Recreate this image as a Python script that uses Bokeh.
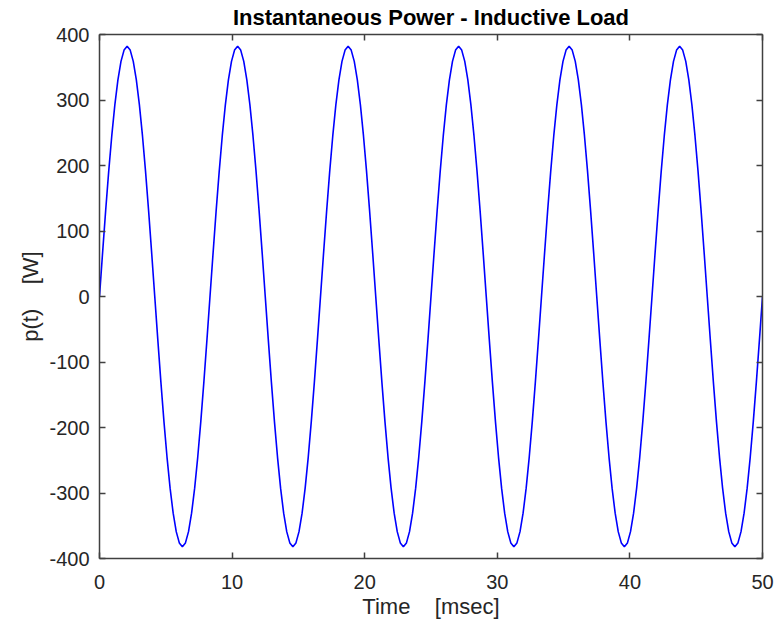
from bokeh.plotting import figure
from bokeh.models import LinearAxis, Range1d, FixedTicker, CustomLabelingPolicy
from bokeh.embed import file_html
from bokeh.resources import INLINE

# Time samples [msec]
time_ms = [
    0.000, 0.231, 0.463, 0.694, 0.926, 1.157, 1.389, 1.620, 1.852, 2.083, 2.315, 2.546,
    2.778, 3.009, 3.241, 3.472, 3.704, 3.935, 4.167, 4.398, 4.630, 4.861, 5.093, 5.324,
    5.556, 5.787, 6.019, 6.250, 6.481, 6.713, 6.944, 7.176, 7.407, 7.639, 7.870, 8.102,
    8.333, 8.565, 8.796, 9.028, 9.259, 9.491, 9.722, 9.954, 10.185, 10.417, 10.648, 10.880,
    11.111, 11.343, 11.574, 11.806, 12.037, 12.269, 12.500, 12.731, 12.963, 13.194, 13.426, 13.657,
    13.889, 14.120, 14.352, 14.583, 14.815, 15.046, 15.278, 15.509, 15.741, 15.972, 16.204, 16.435,
    16.667, 16.898, 17.130, 17.361, 17.593, 17.824, 18.056, 18.287, 18.519, 18.750, 18.981, 19.213,
    19.444, 19.676, 19.907, 20.139, 20.370, 20.602, 20.833, 21.065, 21.296, 21.528, 21.759, 21.991,
    22.222, 22.454, 22.685, 22.917, 23.148, 23.380, 23.611, 23.843, 24.074, 24.306, 24.537, 24.769,
    25.000, 25.231, 25.463, 25.694, 25.926, 26.157, 26.389, 26.620, 26.852, 27.083, 27.315, 27.546,
    27.778, 28.009, 28.241, 28.472, 28.704, 28.935, 29.167, 29.398, 29.630, 29.861, 30.093, 30.324,
    30.556, 30.787, 31.019, 31.250, 31.481, 31.713, 31.944, 32.176, 32.407, 32.639, 32.870, 33.102,
    33.333, 33.565, 33.796, 34.028, 34.259, 34.491, 34.722, 34.954, 35.185, 35.417, 35.648, 35.880,
    36.111, 36.343, 36.574, 36.806, 37.037, 37.269, 37.500, 37.731, 37.963, 38.194, 38.426, 38.657,
    38.889, 39.120, 39.352, 39.583, 39.815, 40.046, 40.278, 40.509, 40.741, 40.972, 41.204, 41.435,
    41.667, 41.898, 42.130, 42.361, 42.593, 42.824, 43.056, 43.287, 43.519, 43.750, 43.981, 44.213,
    44.444, 44.676, 44.907, 45.139, 45.370, 45.602, 45.833, 46.065, 46.296, 46.528, 46.759, 46.991,
    47.222, 47.454, 47.685, 47.917, 48.148, 48.380, 48.611, 48.843, 49.074, 49.306, 49.537, 49.769,
    50.000,
]

# Instantaneous power p(t) [W]
power_w = [
    0.0, 66.3, 130.7, 191.0, 245.5, 292.6, 330.8, 359.0, 376.2, 382.0, 376.2, 359.0,
    330.8, 292.6, 245.5, 191.0, 130.7, 66.3, 0.0, -66.3, -130.7, -191.0, -245.5, -292.6,
    -330.8, -359.0, -376.2, -382.0, -376.2, -359.0, -330.8, -292.6, -245.5, -191.0, -130.7, -66.3,
    0.0, 66.3, 130.7, 191.0, 245.5, 292.6, 330.8, 359.0, 376.2, 382.0, 376.2, 359.0,
    330.8, 292.6, 245.5, 191.0, 130.7, 66.3, 0.0, -66.3, -130.7, -191.0, -245.5, -292.6,
    -330.8, -359.0, -376.2, -382.0, -376.2, -359.0, -330.8, -292.6, -245.5, -191.0, -130.7, -66.3,
    0.0, 66.3, 130.7, 191.0, 245.5, 292.6, 330.8, 359.0, 376.2, 382.0, 376.2, 359.0,
    330.8, 292.6, 245.5, 191.0, 130.7, 66.3, 0.0, -66.3, -130.7, -191.0, -245.5, -292.6,
    -330.8, -359.0, -376.2, -382.0, -376.2, -359.0, -330.8, -292.6, -245.5, -191.0, -130.7, -66.3,
    0.0, 66.3, 130.7, 191.0, 245.5, 292.6, 330.8, 359.0, 376.2, 382.0, 376.2, 359.0,
    330.8, 292.6, 245.5, 191.0, 130.7, 66.3, 0.0, -66.3, -130.7, -191.0, -245.5, -292.6,
    -330.8, -359.0, -376.2, -382.0, -376.2, -359.0, -330.8, -292.6, -245.5, -191.0, -130.7, -66.3,
    0.0, 66.3, 130.7, 191.0, 245.5, 292.6, 330.8, 359.0, 376.2, 382.0, 376.2, 359.0,
    330.8, 292.6, 245.5, 191.0, 130.7, 66.3, 0.0, -66.3, -130.7, -191.0, -245.5, -292.6,
    -330.8, -359.0, -376.2, -382.0, -376.2, -359.0, -330.8, -292.6, -245.5, -191.0, -130.7, -66.3,
    0.0, 66.3, 130.7, 191.0, 245.5, 292.6, 330.8, 359.0, 376.2, 382.0, 376.2, 359.0,
    330.8, 292.6, 245.5, 191.0, 130.7, 66.3, 0.0, -66.3, -130.7, -191.0, -245.5, -292.6,
    -330.8, -359.0, -376.2, -382.0, -376.2, -359.0, -330.8, -292.6, -245.5, -191.0, -130.7, -66.3,
    0.0,
]

x_ticks = [0, 10, 20, 30, 40, 50]
x_tick_labels = ["0", "10", "20", "30", "40", "50"]
y_ticks = [-400, -300, -200, -100, 0, 100, 200, 300, 400]
y_tick_labels = ["-400", "-300", "-200", "-100", "0", "100", "200", "300", "400"]

title_text = "Instantaneous Power - Inductive Load"
x_label = "Time\u00a0\u00a0\u00a0\u00a0[msec]"
y_label = "p(t)\u00a0\u00a0\u00a0\u00a0[W]"

FONT = "Liberation Sans"
AX = "#404040"
TXT = "#262626"

p = figure(width=784, height=622, output_backend="svg", toolbar_location=None,
           x_range=Range1d(0, 50), y_range=Range1d(-400, 400),
           min_border_left=99, min_border_right=22, min_border_top=34, min_border_bottom=64,
           background_fill_color="white", border_fill_color="white")
p.outline_line_color = None
p.grid.visible = False

p.title.text = title_text
p.title.align = "center"
p.title.text_font = FONT
p.title.text_font_size = "22px"
p.title.text_font_style = "bold"
p.title.text_color = "#000000"
p.title.standoff = 2

p.line(time_ms, power_w, line_color="#0000ff", line_width=1.6)

hide_all = CustomLabelingPolicy(code="""
const all = [...indices];
for (const i of all) indices.unset(i);
return indices;
""")


def style_axis(ax, ticks, labels):
    ax.ticker = FixedTicker(ticks=ticks)
    ax.axis_line_color = AX
    ax.axis_line_width = 1.5
    ax.major_tick_line_color = AX
    ax.major_tick_line_width = 1.5
    ax.major_tick_in = 6
    ax.major_tick_out = 0
    ax.minor_tick_line_color = None
    ax.major_label_text_font = FONT
    ax.major_label_text_color = TXT
    if labels is not None:
        ax.major_label_text_font_size = "20px"
        ax.major_label_overrides = {t: s for t, s in zip(ticks, labels)}
    else:
        ax.major_label_text_font_size = "1px"
        ax.major_label_policy = hide_all
        ax.major_label_standoff = 0


xb = p.xaxis[0]
style_axis(xb, x_ticks, x_tick_labels)
xb.major_label_standoff = 16
xb.axis_label = x_label
xb.axis_label_text_font = FONT
xb.axis_label_text_font_size = "22px"
xb.axis_label_text_font_style = "normal"
xb.axis_label_text_color = TXT
xb.axis_label_standoff = 2

yl = p.yaxis[0]
style_axis(yl, y_ticks, y_tick_labels)
yl.major_label_standoff = 10
yl.axis_label = y_label
yl.axis_label_text_font = FONT
yl.axis_label_text_font_size = "22px"
yl.axis_label_text_font_style = "normal"
yl.axis_label_text_color = TXT
yl.axis_label_standoff = 3

xt = LinearAxis()
style_axis(xt, x_ticks, None)
p.add_layout(xt, "above")

yr = LinearAxis()
style_axis(yr, y_ticks, None)
p.add_layout(yr, "right")

open("out.html", "w").write(file_html(p, INLINE))
